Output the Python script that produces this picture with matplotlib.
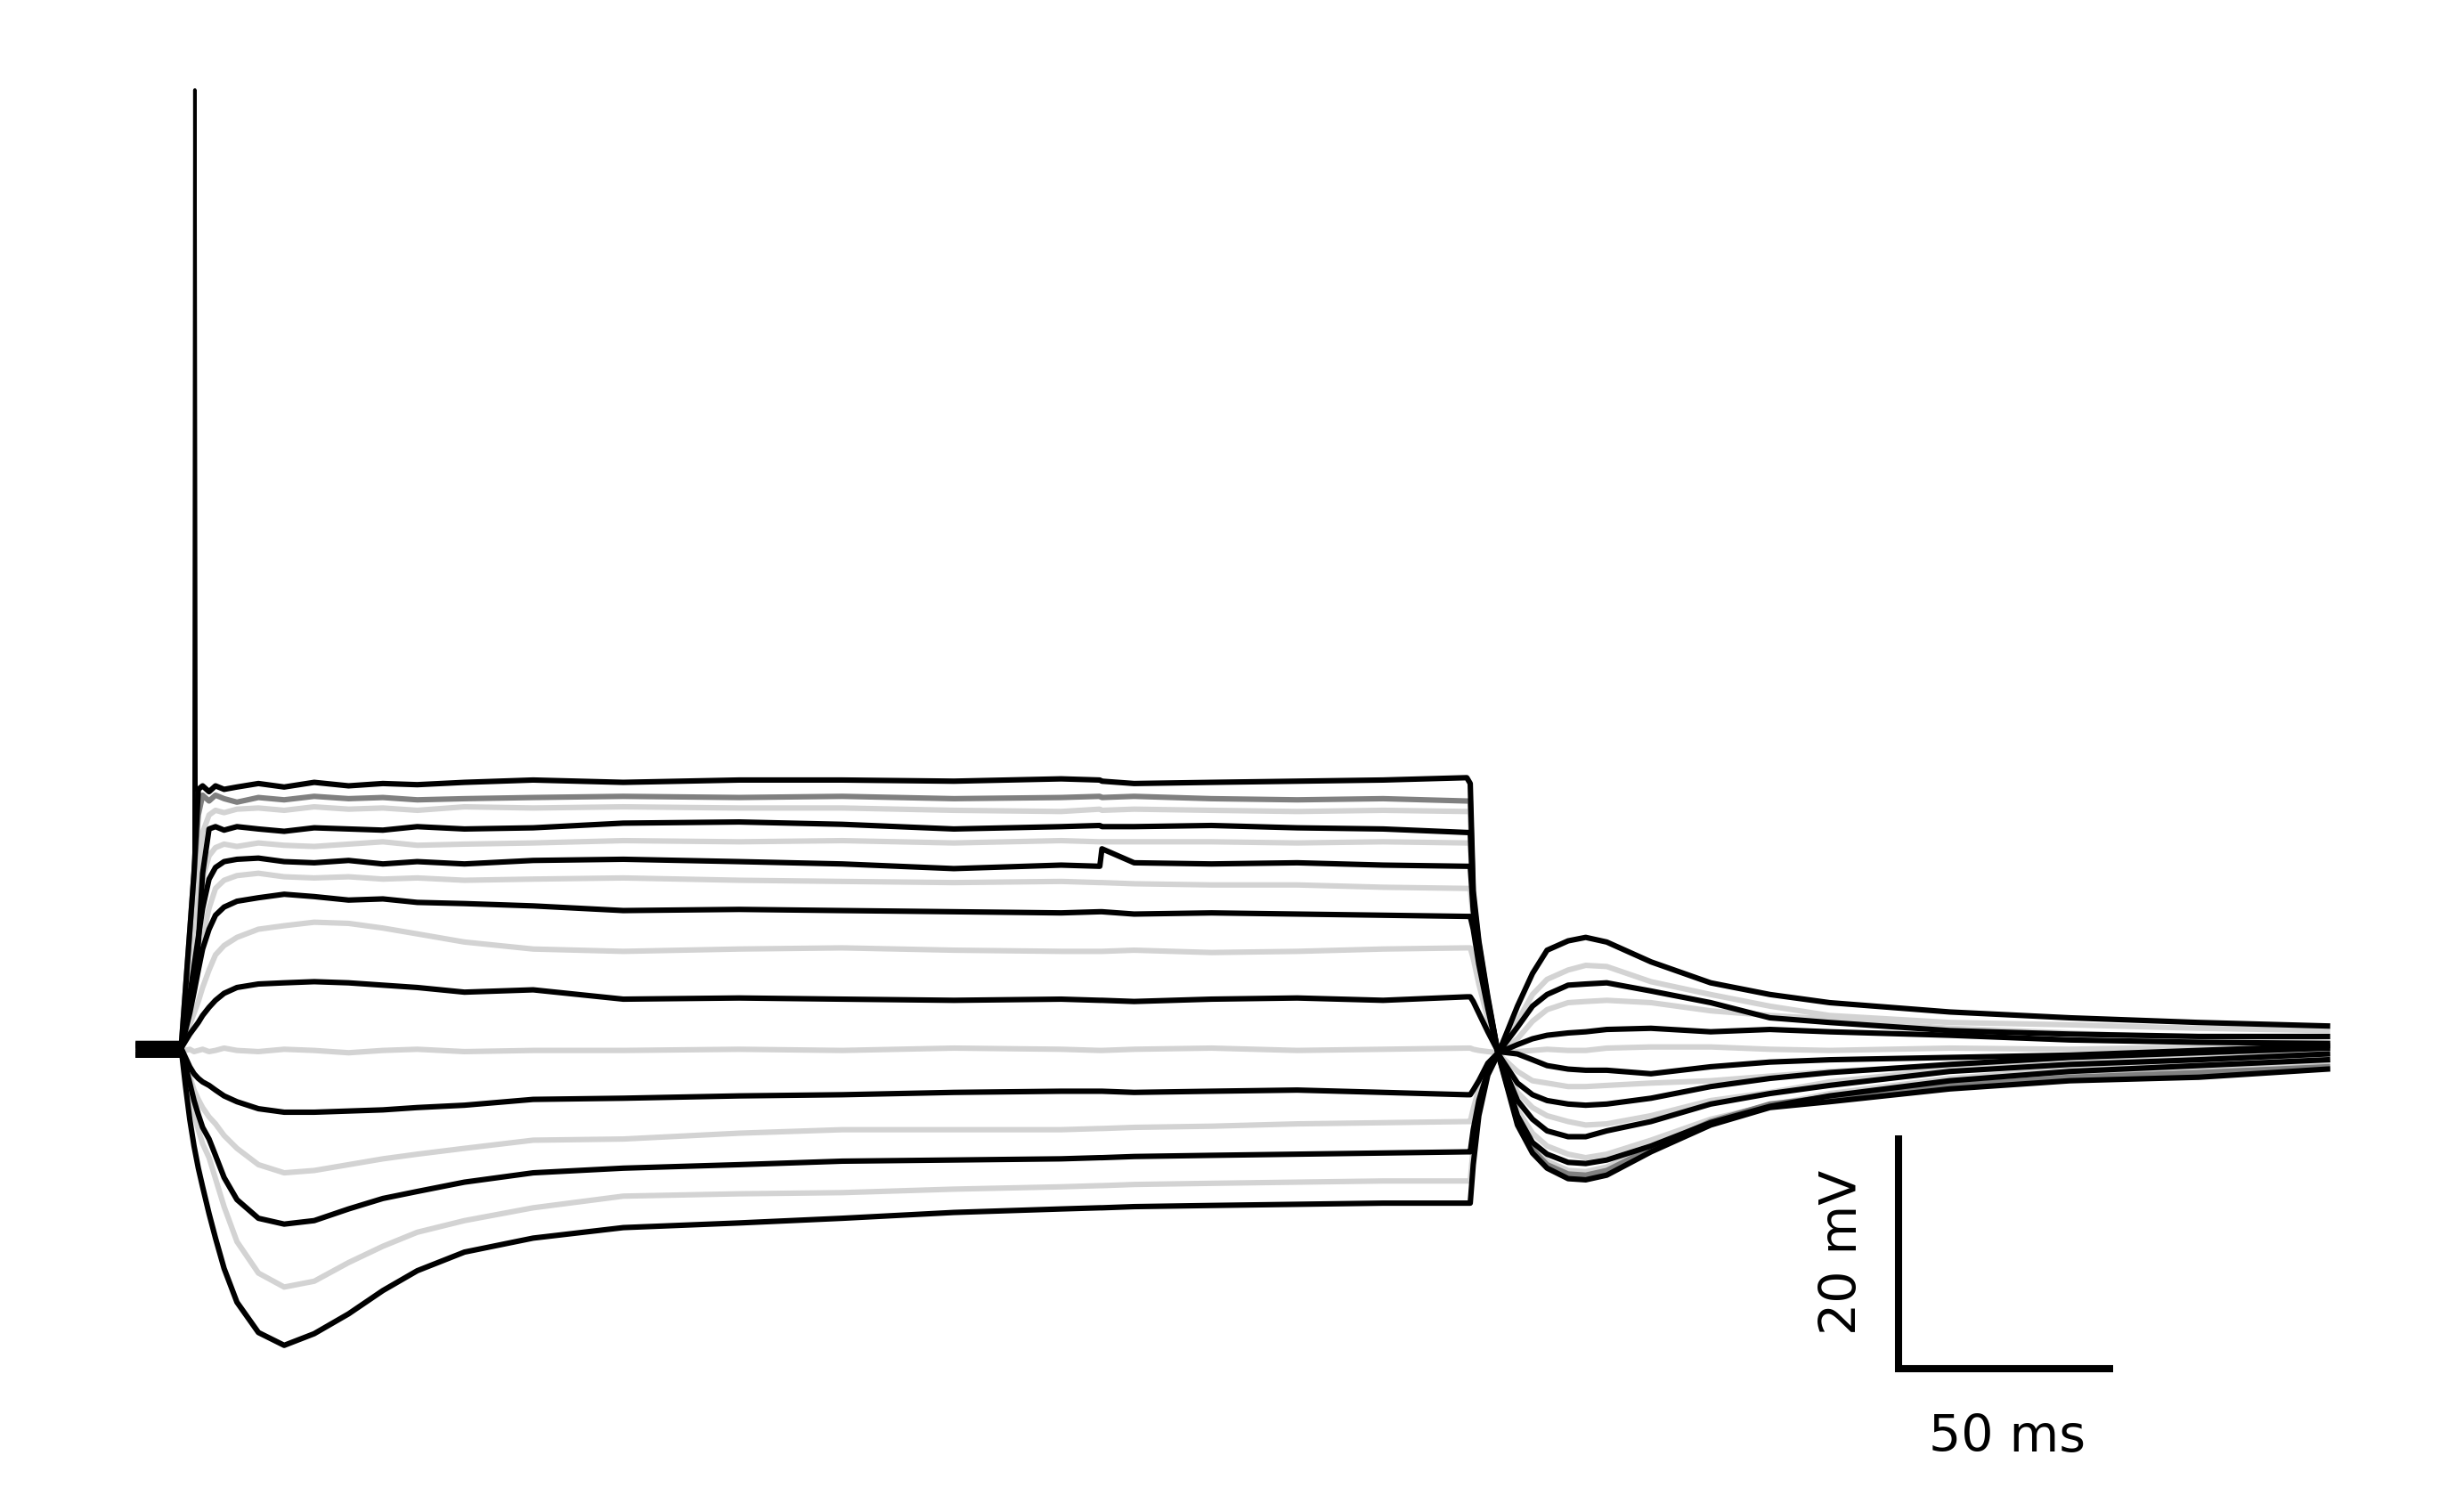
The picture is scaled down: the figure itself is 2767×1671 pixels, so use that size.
import numpy as np
import matplotlib
matplotlib.use('Agg')
import matplotlib.pyplot as plt

# current-step sweeps, membrane potential in mV, time in ms
# values, one row per sweep (top plateau -> bottom)

trace_colors = ['black', 'gray', 'lightgray', 'black', 'lightgray', 'black', 'lightgray', 'black',
                'lightgray', 'black', 'lightgray', 'black', 'lightgray', 'black', 'lightgray', 'black']

pre_ms = [0, 9.5]
rest_mv = [-69.6, -70.0, -69.8, -70.6, -69.9, -70.4, -70.1, -69.7,
           -70.3, -70.5, -70.2, -69.8, -70.4, -70.0, -70.2, -70.6]

onset_ms = [10, 11, 12, 13, 14, 15, 16.5, 18, 20, 23, 28, 34, 41, 49, 57, 65, 76, 92]
onset_mv = [
    [-70, -65, -60, -55, -47.8, -47.5, -48.0, -47.5, -47.8, -47.6, -47.3, -47.6, -47.2, -47.5, -47.3, -47.4, -47.2, -47.0],
    [-70, -65, -60, -55, -50, -48.3, -48.8, -48.3, -48.6, -48.9, -48.5, -48.7, -48.4, -48.6, -48.5, -48.7, -48.6, -48.5],
    [-70, -66, -62, -58, -54.5, -51.5, -50.0, -49.6, -49.8, -49.5, -49.4, -49.6, -49.3, -49.5, -49.4, -49.6, -49.3, -49.4],
    [-70, -68, -66, -64, -61, -55, -51.2, -51.0, -51.3, -51.0, -51.2, -51.4, -51.1, -51.2, -51.3, -51.0, -51.2, -51.1],
    [-70, -67, -64, -61, -58, -55.5, -53.5, -52.8, -52.5, -52.7, -52.4, -52.6, -52.7, -52.5, -52.3, -52.6, -52.5, -52.4],
    [-70, -68, -65.5, -63, -60.5, -58, -55.5, -54.5, -54.0, -53.8, -53.7, -54.0, -54.1, -53.9, -54.2, -54.0, -54.2, -53.9],
    [-70, -68.5, -66.5, -64.5, -62.5, -60.5, -58, -56.3, -55.6, -55.2, -55.0, -55.3, -55.4, -55.3, -55.5, -55.4, -55.6, -55.5],
    [-70, -68.5, -67, -65.2, -63.3, -61.5, -59.8, -58.6, -57.9, -57.4, -57.1, -56.8, -57.0, -57.3, -57.2, -57.5, -57.6, -57.8],
    [-70, -69, -68, -67, -66, -64.8, -63.3, -62.0, -61.2, -60.5, -59.8, -59.5, -59.2, -59.3, -59.7, -60.2, -60.9, -61.5],
    [-70, -69.4, -68.8, -68.3, -67.8, -67.2, -66.5, -65.9, -65.3, -64.8, -64.5, -64.4, -64.3, -64.4, -64.6, -64.8, -65.2, -65.0],
    [-70, -70.2, -70.1, -70.3, -70.2, -70.1, -70.3, -70.2, -70.0, -70.2, -70.3, -70.1, -70.2, -70.4, -70.2, -70.1, -70.3, -70.2],
    [-70, -70.8, -71.6, -72.2, -72.6, -72.9, -73.2, -73.6, -74.1, -74.6, -75.2, -75.5, -75.5, -75.4, -75.3, -75.1, -74.9, -74.4],
    [-70, -71.2, -72.4, -73.6, -74.4, -75.1, -75.9, -76.5, -77.5, -78.6, -80.0, -80.7, -80.5, -80.0, -79.5, -79.1, -78.6, -77.9],
    [-70, -71.5, -73.0, -74.5, -75.7, -76.8, -77.8, -79.2, -81.1, -83.0, -84.6, -85.1, -84.8, -83.8, -82.9, -82.3, -81.5, -80.7],
    [-70, -71.8, -73.6, -75.6, -77.0, -78.2, -79.4, -81.2, -83.6, -86.6, -89.3, -90.5, -90.0, -88.4, -87.0, -85.8, -84.8, -83.7],
    [-70, -73.2, -76.1, -78.4, -80.3, -81.9, -84.2, -86.3, -88.9, -91.8, -94.4, -95.5, -94.5, -92.8, -90.8, -89.1, -87.5, -86.3],
]

plateau_ms = [113, 140, 164, 190, 215, 224, 224.5, 232, 250, 270, 290, 309.5]
plateau_mv = [
    [-47.2, -47.0, -47.0, -47.1, -46.9, -47.0, -47.1, -47.3, -47.2, -47.1, -47.0, -46.8],
    [-48.4, -48.5, -48.4, -48.6, -48.5, -48.4, -48.5, -48.4, -48.6, -48.7, -48.6, -48.8],
    [-49.3, -49.4, -49.4, -49.6, -49.7, -49.5, -49.6, -49.5, -49.6, -49.7, -49.6, -49.7],
    [-50.7, -50.6, -50.8, -51.2, -51.0, -50.9, -51.0, -51.0, -50.9, -51.1, -51.2, -51.5],
    [-52.2, -52.3, -52.2, -52.4, -52.2, -52.3, -52.3, -52.3, -52.3, -52.4, -52.3, -52.4],
    [-53.8, -54.0, -54.2, -54.6, -54.3, -54.4, -52.9, -54.1, -54.2, -54.1, -54.3, -54.4],
    [-55.4, -55.6, -55.7, -55.8, -55.7, -55.8, -55.8, -55.9, -56.0, -56.0, -56.2, -56.3],
    [-58.2, -58.1, -58.2, -58.3, -58.4, -58.3, -58.3, -58.5, -58.4, -58.5, -58.6, -58.7],
    [-61.7, -61.5, -61.4, -61.6, -61.7, -61.7, -61.7, -61.6, -61.8, -61.7, -61.5, -61.4],
    [-65.8, -65.7, -65.8, -65.9, -65.8, -65.9, -65.9, -66.0, -65.8, -65.7, -65.9, -65.6],
    [-70.2, -70.1, -70.2, -70.0, -70.1, -70.2, -70.2, -70.1, -70.0, -70.2, -70.1, -70.0],
    [-74.3, -74.1, -74.0, -73.8, -73.7, -73.7, -73.7, -73.8, -73.7, -73.6, -73.8, -74.0],
    [-77.8, -77.3, -77.0, -77.0, -77.0, -76.9, -76.9, -76.8, -76.7, -76.5, -76.4, -76.3],
    [-80.3, -80.0, -79.7, -79.6, -79.5, -79.4, -79.4, -79.3, -79.2, -79.1, -79.0, -78.9],
    [-82.7, -82.5, -82.4, -82.1, -81.9, -81.8, -81.8, -81.7, -81.6, -81.5, -81.4, -81.4],
    [-85.4, -85.0, -84.6, -84.1, -83.8, -83.7, -83.7, -83.6, -83.5, -83.4, -83.3, -83.3],
]

offset_ms = [310.3, 311.0, 312.3, 314.4, 316.8, 321.3, 324.8, 328.2, 333.1, 337.2,
             342.1, 352.4, 366.3, 380.1, 394, 422, 450, 480, 510]
offset_mv = [
    [-47.3, -56.5, -60.8, -65.6, -70.5, -76.6, -79.0, -80.3, -81.2, -81.3, -80.9, -78.9, -76.6, -75.1, -74.6, -73.5, -72.8, -72.5, -71.8],
    [-48.8, -57.0, -61.0, -65.8, -70.5, -76.3, -78.7, -80.0, -80.8, -80.9, -80.5, -78.6, -76.3, -74.8, -74.2, -73.2, -72.5, -72.1, -71.6],
    [-49.7, -57.2, -61.1, -65.8, -70.5, -76.1, -78.4, -79.7, -80.5, -80.6, -80.2, -78.5, -76.2, -74.9, -74.0, -73.0, -72.3, -71.8, -71.4],
    [-51.5, -57.6, -61.3, -65.9, -70.5, -75.8, -78.1, -79.1, -79.8, -79.9, -79.6, -78.4, -76.4, -75.0, -74.1, -72.8, -72.0, -71.5, -71.0],
    [-52.4, -57.8, -61.5, -66.0, -70.5, -75.3, -77.3, -78.4, -79.1, -79.4, -79.1, -77.9, -76.1, -74.9, -73.9, -72.6, -71.8, -71.2, -70.8],
    [-54.4, -58.2, -61.8, -66.2, -70.5, -74.5, -76.1, -77.1, -77.6, -77.6, -77.1, -76.3, -74.8, -73.9, -73.2, -72.0, -71.4, -71.0, -70.5],
    [-56.3, -58.8, -62.1, -66.3, -70.5, -73.8, -75.1, -75.8, -76.3, -76.6, -76.5, -75.8, -74.5, -73.8, -72.9, -71.8, -71.2, -70.8, -70.4],
    [-58.7, -59.8, -62.8, -66.6, -70.5, -73.0, -74.0, -74.5, -74.8, -74.9, -74.8, -74.3, -73.3, -72.6, -72.1, -71.4, -70.8, -70.4, -70.0],
    [-61.4, -62.3, -64.5, -67.5, -70.5, -72.0, -72.8, -73.0, -73.3, -73.3, -73.2, -73.0, -72.8, -72.4, -72.0, -71.5, -71.0, -70.6, -70.3],
    [-65.6, -66.0, -67.0, -68.6, -70.3, -70.5, -71.0, -71.5, -71.8, -71.9, -71.9, -72.2, -71.6, -71.2, -71.0, -70.8, -70.6, -70.2, -69.8],
    [-70.0, -70.1, -70.2, -70.3, -70.4, -70.3, -70.2, -70.1, -70.2, -70.2, -70.0, -69.9, -69.9, -70.1, -70.2, -70.0, -70.1, -69.9, -70.0],
    [-74.0, -73.6, -72.8, -71.3, -70.4, -69.7, -69.2, -68.9, -68.7, -68.6, -68.4, -68.3, -68.6, -68.4, -68.6, -68.9, -69.3, -69.5, -69.6],
    [-76.3, -75.2, -73.5, -71.6, -70.4, -69.2, -67.7, -66.7, -66.1, -66.0, -65.9, -66.1, -66.8, -67.2, -67.5, -68.3, -68.7, -69.2, -69.5],
    [-78.9, -77.0, -74.5, -72.0, -70.4, -68.2, -66.4, -65.4, -64.6, -64.5, -64.4, -65.1, -66.1, -67.4, -67.8, -68.5, -68.8, -69.0, -69.0],
    [-81.4, -78.5, -75.3, -72.3, -70.5, -67.7, -65.4, -64.1, -63.3, -62.9, -63.0, -64.3, -65.4, -66.4, -67.2, -67.8, -68.0, -68.3, -68.5],
    [-83.3, -80.0, -75.8, -72.3, -70.5, -66.4, -63.6, -61.6, -60.8, -60.5, -60.9, -62.6, -64.4, -65.4, -66.1, -66.9, -67.4, -67.8, -68.1],
]

# action potential on the first sweep
spike_ms = [13.0, 13.2, 13.45]
spike_mv = [-55.0, 12.2, -47.8]

# scale bar
bar_ms = 50
bar_mv = 20
bar_origin = (410.1, -97.5)

fig = plt.figure(figsize=(27.67, 16.71), dpi=100)
ax = fig.add_axes([0, 0, 1, 1])

t_all = np.concatenate([pre_ms, onset_ms, plateau_ms, offset_ms])

# light sweeps underneath, then grey, then black on top
order = {'lightgray': 1, 'gray': 2, 'black': 3}
for i in range(len(trace_colors)):
    v = np.concatenate([[rest_mv[i], rest_mv[i]], onset_mv[i], plateau_mv[i], offset_mv[i]])
    ax.plot(t_all, v, color=trace_colors[i], lw=4.4, zorder=order[trace_colors[i]],
            solid_joinstyle='round')

ax.plot(spike_ms, spike_mv, color=trace_colors[0], lw=2.8, zorder=4)

# L-shaped scale bar, drawn as one path so the corner is closed
x0, y0 = bar_origin
ax.plot([x0, x0, x0 + bar_ms], [y0 + bar_mv, y0, y0], color='black', lw=5.8,
        solid_capstyle='butt', solid_joinstyle='miter')
ax.text(397.2, -87.5, '20 mV', rotation=90, ha='center', va='center', fontsize=41)
ax.text(435.3, -104.6, '50 ms', ha='center', va='baseline', fontsize=41)

ax.set_xlim(-32.2, 541.8)
ax.set_ylim(-107.74, 19.92)
ax.axis('off')

fig.savefig('out.png', dpi=100, facecolor='white')
